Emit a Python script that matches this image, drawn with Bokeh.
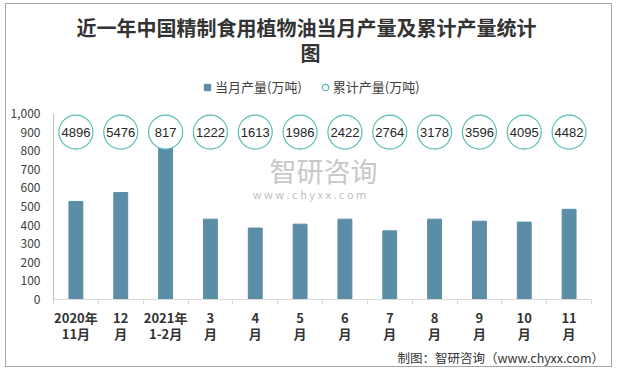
from bokeh.plotting import figure
from bokeh.layouts import column
from bokeh.models import (Range1d, FixedTicker, NumeralTickFormatter, Label, Legend,
                          LegendItem, ColumnDataSource, Title)
from bokeh.embed import file_html
from bokeh.resources import INLINE

# ---- data ----
tick_labels = ["2020年\n11月", "12\n月", "2021年\n1-2月", "3\n月", "4\n月", "5\n月",
               "6\n月", "7\n月", "8\n月", "9\n月", "10\n月", "11\n月"]
monthly = [527, 575, 813, 432, 384, 405, 432, 369, 432, 421, 416, 485]
cumulative = [4896, 5476, 817, 1222, 1613, 1986, 2422, 2764, 3178, 3596, 4095, 4482]
series_names = ["当月产量(万吨)", "累计产量(万吨)"]
y_ticks = [0, 100, 200, 300, 400, 500, 600, 700, 800, 900, 1000]

title_line1 = "近一年中国精制食用植物油当月产量及累计产量统计"
title_line2 = "图"
footer = "制图：智研咨询（www.chyxx.com）"

BAR_COLOR = "#5b8ea6"
CIRCLE_COLOR = "#5cbdb5"
TEXT_COLOR = "#404040"
FONT = "Noto Sans CJK SC"
LABEL_LEVEL = 900

W = 605
LEFT, RIGHT = 47, 20
H_HEAD, H_MAIN = 101, 261

n = len(monthly)
xs = list(range(n))
nan = float("nan")

# ---- header: title + legend (frame aligned with the chart frame) ----
head = figure(width=W, height=H_HEAD, output_backend="svg", toolbar_location=None,
              x_range=Range1d(LEFT, W - RIGHT), y_range=Range1d(H_HEAD, 0),
              x_axis_type=None, y_axis_type=None,
              min_border_left=LEFT, min_border_right=RIGHT,
              min_border_top=0, min_border_bottom=0)
head.outline_line_color = None
head.xgrid.visible = False
head.ygrid.visible = False
head.border_fill_color = "white"

head.add_layout(Label(x=70, y=22.5, text=title_line1, text_align="left",
                      text_baseline="middle", text_font=FONT, text_font_size="20px",
                      text_font_style="bold", text_color="#333333"))
head.add_layout(Label(x=294, y=47.5, text=title_line2, text_align="left",
                      text_baseline="middle", text_font=FONT, text_font_size="20px",
                      text_font_style="bold", text_color="#333333"))
d1 = head.scatter(x=[nan], y=[nan], marker="square", fill_color=BAR_COLOR,
                  line_color=BAR_COLOR)
d2 = head.scatter(x=[nan], y=[nan], marker="circle", fill_color="white",
                  line_color=CIRCLE_COLOR, line_width=1.2)
legend = Legend(items=[LegendItem(label=series_names[0], renderers=[d1]),
                       LegendItem(label=series_names[1], renderers=[d2])],
                orientation="horizontal", location=(146, 9),
                glyph_width=16, glyph_height=16, label_height=16,
                label_standoff=0, spacing=15, padding=0, margin=0,
                border_line_color=None, background_fill_alpha=0,
                label_text_font=FONT, label_text_font_size="13px",
                label_text_color=TEXT_COLOR)
head.add_layout(legend, "center")

# ---- main chart ----
p = figure(width=W, height=H_MAIN, output_backend="svg", toolbar_location=None,
           x_range=Range1d(-0.5, n - 0.5), y_range=Range1d(0, 1000),
           min_border_left=LEFT, min_border_right=RIGHT, min_border_top=8,
           min_border_bottom=64)
p.outline_line_color = None
p.xgrid.visible = False
p.ygrid.visible = False
p.border_fill_color = "white"

src = ColumnDataSource(dict(x=xs, monthly=monthly,
                            cum=[str(v) for v in cumulative],
                            lvl=[LABEL_LEVEL] * n))

p.add_layout(Label(x=270, y=129, x_units="screen", y_units="screen", text="智研咨询",
                   text_align="center", text_baseline="middle", text_font=FONT,
                   text_font_size="27px", text_color="#c8c8c8"))
p.add_layout(Label(x=256, y=106, x_units="screen", y_units="screen",
                   text="w w w . c h y x x . c o m",
                   text_align="center", text_baseline="middle", text_font=FONT,
                   text_font_size="11px", text_color="#c0c0c0"))

p.vbar(x="x", top="monthly", width=0.31, source=src, fill_color=BAR_COLOR,
       line_color=BAR_COLOR)
p.scatter(x="x", y="lvl", size=34, marker="circle", source=src,
          fill_color="white", line_color=CIRCLE_COLOR, line_width=1.2)
p.text(x="x", y="lvl", text="cum", source=src, text_align="center",
       text_baseline="middle", text_font_size="13px", text_color="#262626",
       text_font={"value": "Liberation Sans"})

p.xaxis.ticker = FixedTicker(ticks=xs, minor_ticks=[i - 0.5 for i in range(n + 1)])
p.xaxis.major_label_overrides = {i: t for i, t in enumerate(tick_labels)}
p.xaxis.major_tick_line_color = None
p.xaxis.major_tick_out = 0
p.xaxis.major_tick_in = 0
p.xaxis.minor_tick_line_color = "#d9d9d9"
p.xaxis.minor_tick_out = 5
p.xaxis.minor_tick_in = 0
p.xaxis.axis_line_color = "#d9d9d9"
p.xaxis.major_label_standoff = 3
p.xaxis.major_label_text_font = FONT
p.xaxis.major_label_text_font_style = "bold"
p.xaxis.major_label_text_font_size = "13px"
p.xaxis.major_label_text_color = "#333333"
p.xaxis.major_label_text_line_height = 0.86

p.yaxis.ticker = FixedTicker(ticks=y_ticks)
p.yaxis.formatter = NumeralTickFormatter(format="0,0")
p.yaxis.major_tick_line_color = None
p.yaxis.minor_tick_line_color = None
p.yaxis.major_tick_out = 0
p.yaxis.major_tick_in = 0
p.yaxis.axis_line_color = "#bfbfbf"
p.yaxis.major_label_standoff = 13
p.yaxis.major_label_text_font = FONT
p.yaxis.major_label_text_font_size = "12px"
p.yaxis.major_label_text_color = TEXT_COLOR

# ---- footer as a bottom title ----
p.add_layout(Title(text=footer, align="left", offset=344, standoff=0,
                   text_font=FONT, text_font_size="12.5px", text_font_style="normal",
                   text_line_height=0.85, text_color="#333333"), "below")

layout = column(head, p, spacing=0)
layout.styles = {"border": "1px solid #a6a6a6", "margin-left": "5px",
                 "margin-top": "3px"}

open("out.html", "w").write(file_html(layout, INLINE))
